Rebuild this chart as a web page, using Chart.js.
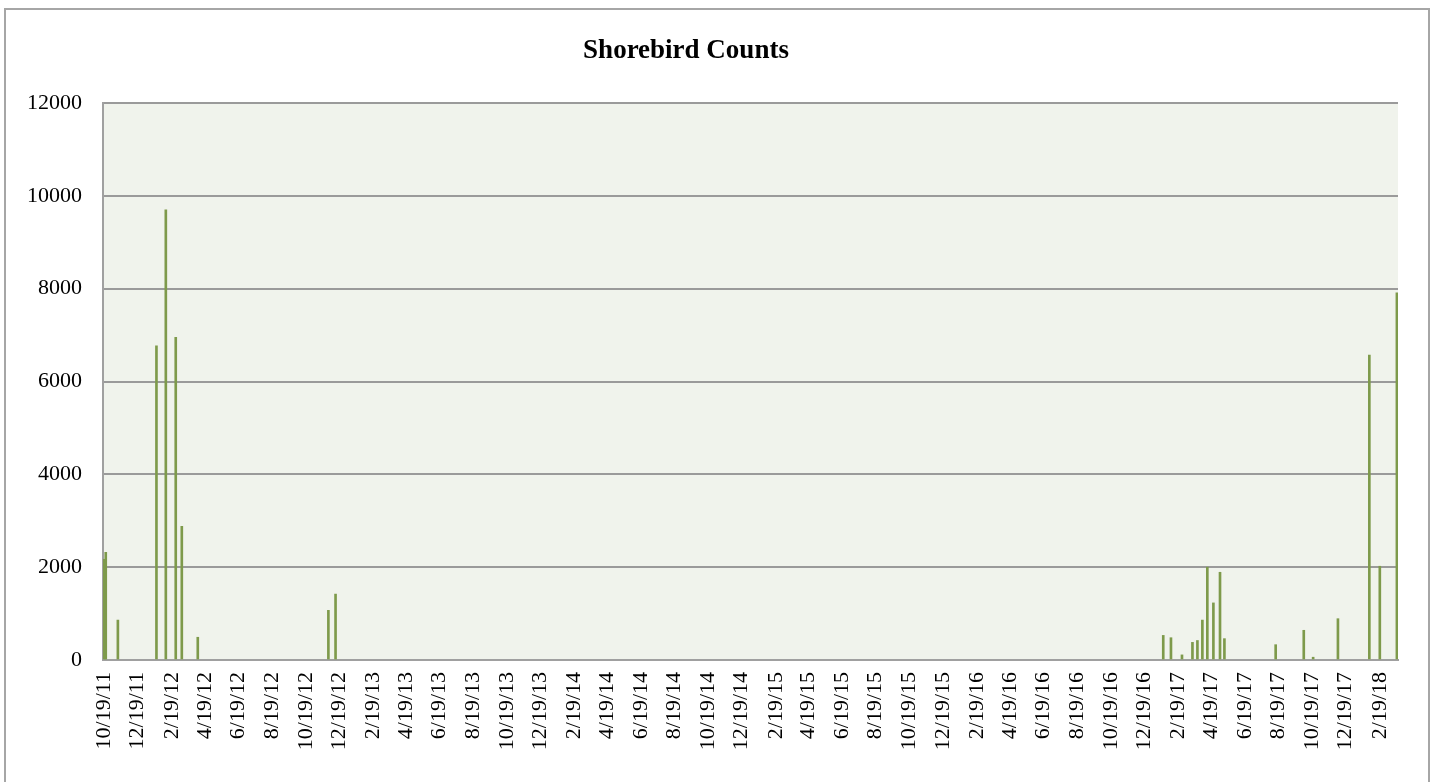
<!DOCTYPE html>
<html>
<head>
<meta charset="utf-8">
<title>Shorebird Counts</title>
<script src="https://cdn.jsdelivr.net/npm/chart.js@4.4.1/dist/chart.umd.min.js"></script>
<style>
    html, body { margin: 0; padding: 0; background: #fff; overflow: hidden; }
    #frame {
        position: absolute; left: 4px; top: 8px; width: 1426px; height: 820px;
        border: 2px solid #a6a6a6; box-sizing: border-box;
    }
    #chart-title {
        position: absolute; left: 486px; width: 400px; top: 34px;
        text-align: center; font: bold 27px "Liberation Serif", serif; color: #000;
    }
    #wrap { position: absolute; left: 0; top: 0; width: 1440px; height: 782px; }
</style>
</head>
<body>
<div id="frame"></div>
<div id="wrap"><canvas id="birdChart"></canvas></div>
<div id="chart-title">Shorebird Counts</div>

<script>
// survey dates (m/d/yy) and the shorebird count on each
const countDates = [
    '10/19/11', '10/22/11', '11/13/11', '1/22/12', '2/8/12', '2/26/12', '3/8/12', '4/6/12',
    '11/29/12', '12/12/12',
    '1/22/17', '2/5/17', '2/25/17', '3/16/17', '3/25/17', '4/3/17', '4/12/17', '4/23/17',
    '5/5/17', '5/13/17', '8/14/17', '10/4/17', '10/21/17', '12/5/17',
    '1/31/18', '2/19/18', '3/22/18'
];
const birdCounts = [
    2170, 2320, 860, 6770, 9700, 6950, 2880, 490,
    1070, 1420,
    530, 480, 110, 380, 420, 860, 2000, 1230,
    1890, 460, 330, 640, 60, 890,
    6570, 2020, 7910
];

const xTickLabels = [
    '10/19/11', '12/19/11', '2/19/12', '4/19/12', '6/19/12', '8/19/12', '10/19/12', '12/19/12',
    '2/19/13', '4/19/13', '6/19/13', '8/19/13', '10/19/13', '12/19/13',
    '2/19/14', '4/19/14', '6/19/14', '8/19/14', '10/19/14', '12/19/14',
    '2/19/15', '4/19/15', '6/19/15', '8/19/15', '10/19/15', '12/19/15',
    '2/19/16', '4/19/16', '6/19/16', '8/19/16', '10/19/16', '12/19/16',
    '2/19/17', '4/19/17', '6/19/17', '8/19/17', '10/19/17', '12/19/17',
    '2/19/18'
];
const axisStart = '10/17/11';
const axisEnd = '3/24/18';

const yMin = 0;
const yMax = 12000;
const yStep = 2000;

const plotBg = '#f0f3ec';
const barColor = '#7e9a4b';
const gridColor = '#9a9a9a';
const font = { family: '"Liberation Serif", serif', size: 22 };

// m/d/yy -> day number
function toDay(s) {
    const [m, d, y] = s.split('/').map(Number);
    return Date.UTC(2000 + y, m - 1, d) / 86400000;
}

const xTickDays = xTickLabels.map(toDay);

const plotBackground = {
    id: 'plotBackground',
    beforeDraw(chart) {
        const { ctx, chartArea: a } = chart;
        ctx.save();
        ctx.fillStyle = plotBg;
        ctx.fillRect(a.left, a.top, a.width, a.height);
        ctx.restore();
    }
};

new Chart(document.getElementById('birdChart'), {
    type: 'bar',
    data: {
        datasets: [{
            label: 'Shorebirds',
            data: countDates.map((d, i) => ({ x: toDay(d), y: birdCounts[i] })),
            backgroundColor: barColor,
            borderWidth: 0,
            barThickness: 2
        }]
    },
    options: {
        responsive: true,
        maintainAspectRatio: false,
        animation: false,
        layout: { padding: { left: 0, right: 42, top: 103, bottom: 0 } },
        plugins: {
            legend: { display: false },
            tooltip: { enabled: false },
            title: { display: false }
        },
        scales: {
            x: {
                type: 'linear',
                offset: false,
                min: toDay(axisStart),
                max: toDay(axisEnd),
                grid: { display: false, drawTicks: false },
                border: { display: true, color: '#a0a0a0', width: 2 },
                afterBuildTicks: (scale) => {
                    scale.ticks = xTickDays.map(v => ({ value: v }));
                },
                afterFit: (scale) => { scale.height = 122; },
                ticks: {
                    autoSkip: false,
                    maxRotation: 90,
                    minRotation: 90,
                    padding: 12,
                    color: '#000',
                    font: font,
                    callback: (value, index) => xTickLabels[index]
                }
            },
            y: {
                min: yMin,
                max: yMax,
                grid: { color: gridColor, lineWidth: 2, drawTicks: false },
                border: { display: true, color: '#a0a0a0', width: 2 },
                afterFit: (scale) => { scale.width = 103; },
                ticks: {
                    stepSize: yStep,
                    padding: 21,
                    color: '#000',
                    font: font,
                    callback: (value) => String(value)
                }
            }
        }
    },
    plugins: [plotBackground]
});
</script>
</body>
</html>
